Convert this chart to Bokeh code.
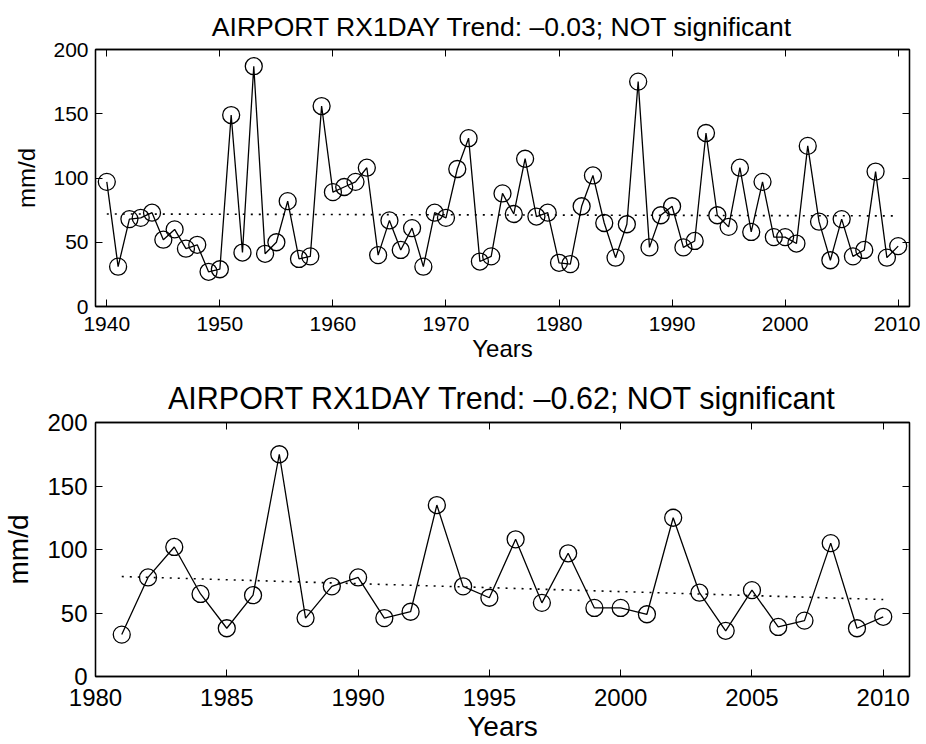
from bokeh.plotting import figure
from bokeh.layouts import column
from bokeh.models import LinearAxis, FixedTicker, Title, Range1d
from bokeh.embed import file_html
from bokeh.resources import INLINE

FONT = "Liberation Sans"

years = list(range(1940, 2011))
rx1day = [97, 31, 68, 69, 73, 52, 60, 45, 48, 27, 29, 149, 42, 187, 41, 50, 82, 37, 39, 156,
          89, 93, 97, 108, 40, 67, 44, 61, 31, 73, 69, 107, 131, 35, 39, 88, 72, 115, 70, 73,
          34, 33, 78, 102, 65, 38, 64, 175, 46, 71, 78, 46, 51, 135, 71, 62, 108, 58, 97, 54,
          54, 49, 125, 66, 36, 68, 39, 44, 105, 38, 47]

top_title = "AIRPORT RX1DAY Trend: \u20130.03; NOT significant"
bot_title = "AIRPORT RX1DAY Trend: \u20130.62; NOT significant"

top_trend_years = [1940, 2010]
top_trend_vals = [72.0, 70.5]
bot_trend_years = [1981, 2010]
bot_trend_vals = [78.7, 60.6]

top_xticks = [1940, 1950, 1960, 1970, 1980, 1990, 2000, 2010]
bot_xticks = [1980, 1985, 1990, 1995, 2000, 2005, 2010]
yticks = [0, 50, 100, 150, 200]


def make(xs, ys, trend_x, trend_y, title, xr, xticks, width, height, mb, fs, st, msize):
    tick_fs, xlab_fs, ylab_fs, title_fs = fs
    x_lab_so, x_axlab_so, y_lab_so, y_axlab_so, title_so = st
    p = figure(width=width, height=height, output_backend="svg", toolbar_location=None,
               x_range=Range1d(*xr), y_range=Range1d(0, 200),
               min_border_left=mb[0], min_border_right=mb[1], min_border_top=mb[2], min_border_bottom=mb[3])
    p.title = None
    p.xgrid.visible = False
    p.ygrid.visible = False
    p.outline_line_color = "black"
    p.outline_line_width = 1.3
    p.background_fill_color = "white"
    p.border_fill_color = "white"

    p.line(trend_x, trend_y, line_color="black", line_width=1.6, line_dash="2 6")
    p.line(xs, ys, line_color="black", line_width=1.3)
    p.scatter(xs, ys, marker="circle", size=msize, fill_color=None, line_color="black", line_width=1.3)

    for ax in p.xaxis:
        ax.ticker = FixedTicker(ticks=xticks)
    for ax in p.yaxis:
        ax.ticker = FixedTicker(ticks=yticks)
    for ax in list(p.xaxis) + list(p.yaxis):
        ax.major_tick_in = 7
        ax.major_tick_out = 0
        ax.minor_tick_line_color = None
        ax.axis_line_color = "black"
        ax.axis_line_width = 1.3
        ax.major_tick_line_color = "black"
        ax.major_label_text_font = FONT
        ax.major_label_text_font_size = f"{tick_fs}px"
        ax.major_label_text_color = "black"
        ax.axis_label_text_font = FONT
        ax.axis_label_text_font_style = "normal"
        ax.axis_label_text_color = "black"
    p.xaxis.axis_label = "Years"
    p.yaxis.axis_label = "mm/d"
    p.xaxis.axis_label_text_font_size = f"{xlab_fs}px"
    p.yaxis.axis_label_text_font_size = f"{ylab_fs}px"
    p.xaxis.major_label_standoff = x_lab_so
    p.xaxis.axis_label_standoff = x_axlab_so
    p.yaxis.major_label_standoff = y_lab_so
    p.yaxis.axis_label_standoff = y_axlab_so

    top_ax = LinearAxis(ticker=FixedTicker(ticks=xticks), major_label_text_font_size="0px",
                        major_tick_in=7, major_tick_out=0, minor_tick_line_color=None,
                        axis_line_color="black", axis_line_width=1.3, major_label_standoff=0)
    top_ax.major_label_text_color = None
    right_ax = LinearAxis(ticker=FixedTicker(ticks=yticks), major_label_text_font_size="0px",
                          major_tick_in=7, major_tick_out=0, minor_tick_line_color=None,
                          axis_line_color="black", axis_line_width=1.3, major_label_standoff=0)
    right_ax.major_label_text_color = None
    p.add_layout(top_ax, "above")
    p.add_layout(right_ax, "right")

    t = Title(text=title, align="center", text_font=FONT, text_font_size=f"{title_fs}px",
              text_font_style="normal", text_color="black", standoff=title_so)
    p.add_layout(t, "above")
    return p


p1 = make(years, rx1day, top_trend_years, top_trend_vals, top_title, (1939, 2011), top_xticks,
          920, 368, (95, 11, 49, 62), (21, 24, 24, 26.5), (10, 1, 7, 10, 16), 17)
sub_years = years[41:]
sub_vals = rx1day[41:]
p2 = make(sub_years, sub_vals, bot_trend_years, bot_trend_vals, bot_title, (1980, 2011), bot_xticks,
          920, 376, (95, 11, 54, 65), (24, 28, 28, 30.5), (12, 2, 8, 10, 16), 17)

layout = column(p1, p2, spacing=0)
open("out.html", "w").write(file_html(layout, INLINE))
